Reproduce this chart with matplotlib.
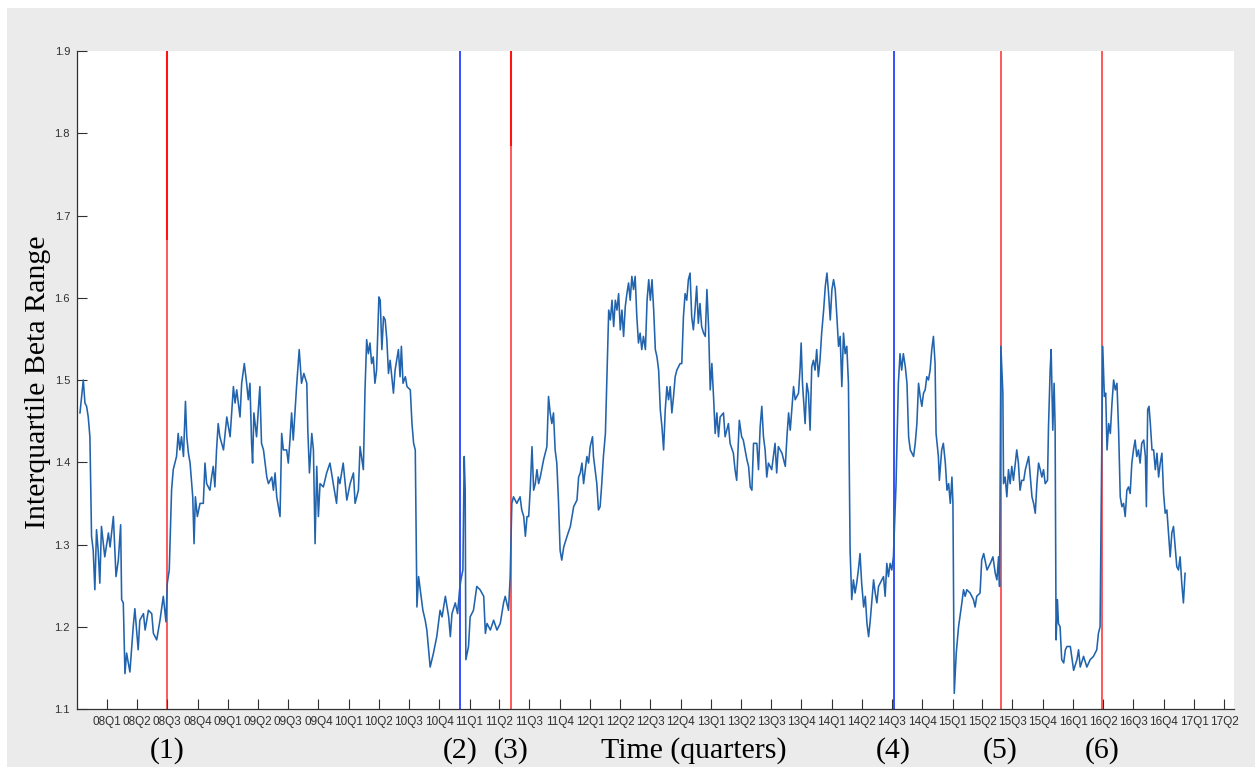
import matplotlib
matplotlib.use("Agg")
import matplotlib.pyplot as plt
import matplotlib.transforms as mtransforms
from matplotlib.patches import Rectangle
import pandas as pd

# Daily interquartile range of cross-sectional betas (sampled), days counted from 2008-01-01
origin = pd.Timestamp("2008-01-01")

day_offset = [
    -82, -72, -67, -62, -57, -52, -47, -42, -37, -32, -27, -22, -17, -7, 4, 9, 19, 27, 34, 41,
    44, 49, 54, 59, 69, 79, 84, 94, 99, 110, 115, 125, 135, 140, 150, 160, 170, 178, 182, 188,
    195, 200, 210, 215, 220, 225, 231, 237, 241, 246, 251, 259, 263, 267, 273, 281, 291, 296, 301, 311,
    316, 321, 326, 331, 336, 341, 352, 362, 372, 382, 387, 392, 402, 407, 415, 422, 427, 432, 437, 440,
    444, 452, 462, 467, 473, 483, 488, 498, 503, 508, 513, 523, 528, 533, 543, 548, 553, 558, 563, 573,
    581, 588, 595, 604, 607, 612, 619, 624, 629, 634, 639, 644, 654, 664, 674, 684, 694, 699, 704, 714,
    725, 735, 745, 750, 760, 765, 775, 780, 785, 790, 795, 800, 805, 810, 815, 822,
    826, 831, 836, 841, 846, 851, 856, 866, 871, 881, 886, 890, 895, 902, 907, 917, 922, 927, 932, 937,
    942, 947, 955, 962, 967, 977, 987, 997, 1007, 1013, 1023, 1033, 1038, 1043, 1053, 1060, 1066, 1070, 1076, 1080,
    1083, 1085, 1093, 1098, 1108, 1118, 1128, 1139, 1144, 1149, 1159, 1169, 1179, 1189, 1199, 1204, 1214, 1219, 1224, 1229,
    1239, 1249, 1254, 1260, 1265, 1270, 1275, 1280, 1285, 1290, 1295, 1300, 1305, 1310, 1320, 1330, 1335, 1340, 1345, 1350,
    1355, 1360, 1365, 1370, 1375, 1381, 1391, 1401, 1411, 1421, 1426, 1431, 1436, 1441, 1446, 1451, 1456, 1461, 1468, 1471,
    1481, 1486, 1491, 1496, 1501, 1507, 1512, 1517, 1522, 1527, 1532, 1537, 1542, 1547, 1552, 1557, 1562, 1567, 1572, 1577,
    1582, 1587, 1592, 1597, 1602, 1607, 1612, 1617, 1622, 1628, 1633, 1638, 1643, 1648, 1653, 1658, 1663, 1668, 1673, 1678,
    1683, 1688, 1693, 1698, 1703, 1708, 1713, 1718, 1723, 1733,
    1738, 1743, 1748, 1753, 1758, 1763, 1768, 1773, 1778, 1783, 1788, 1793, 1798, 1804, 1809, 1814, 1819, 1824, 1829, 1834,
    1839, 1844, 1849, 1854, 1864, 1869, 1879, 1884, 1894, 1899, 1904, 1912, 1919, 1924, 1935, 1940, 1945, 1950, 1955, 1965,
    1970, 1975, 1980, 1985, 1990, 1995, 2000, 2010, 2020, 2025, 2030, 2041, 2051, 2056, 2061, 2066, 2076, 2081, 2091, 2096,
    2099, 2103, 2111, 2116, 2121, 2126, 2131, 2136, 2141, 2146, 2151, 2156, 2161, 2167, 2172, 2177, 2182, 2187, 2192, 2197,
    2202, 2207, 2212, 2217, 2222, 2227, 2232, 2237, 2242, 2247, 2252, 2257, 2262, 2267, 2272, 2277, 2282, 2288, 2293, 2298,
    2303, 2308, 2313, 2318, 2323, 2328, 2333, 2338, 2348, 2353, 2358, 2363, 2368, 2373, 2378, 2386, 2393, 2398, 2403, 2408,
    2414, 2419, 2424, 2429, 2439, 2444, 2449, 2454, 2459, 2464, 2469, 2474, 2479, 2484, 2489, 2494, 2499, 2504, 2507, 2514,
    2517, 2524, 2529, 2535, 2540, 2545, 2550, 2555, 2558, 2562, 2568, 2575, 2585, 2590, 2595, 2600, 2610, 2620, 2625, 2630,
    2640,
    2645, 2651, 2661, 2671, 2679, 2686, 2691, 2696, 2699, 2703, 2709, 2711, 2716, 2721, 2726, 2731, 2736, 2741, 2751, 2756,
    2761, 2766, 2772, 2777, 2787, 2792, 2797, 2802, 2807, 2812, 2817, 2822, 2827, 2832, 2837, 2844, 2847, 2852, 2855, 2860,
    2864, 2867, 2870, 2874, 2877, 2882, 2887, 2893, 2898, 2903, 2913, 2923, 2933, 2938, 2943, 2953, 2963, 2973, 2983, 2993,
    2998, 3003, 3011, 3016, 3020, 3024, 3029, 3034, 3039, 3044, 3049, 3054, 3059, 3064, 3069, 3074, 3079, 3084, 3089, 3094,
    3099, 3104, 3109, 3114, 3119, 3124, 3129, 3135, 3140, 3143, 3147, 3151, 3155, 3160, 3165, 3170, 3175, 3180, 3185, 3190,
    3195, 3200, 3205, 3210, 3215, 3220, 3225, 3230, 3235, 3240, 3245, 3250, 3255, 3260,
]

iqr_beta = [
    1.460, 1.500, 1.472, 1.468, 1.455, 1.431, 1.310, 1.293, 1.245, 1.318, 1.293, 1.253, 1.322, 1.285, 1.314, 1.297, 1.334, 1.261, 1.281, 1.324,
    1.233, 1.229, 1.143, 1.168, 1.145, 1.200, 1.222, 1.172, 1.208, 1.216, 1.196, 1.220, 1.216, 1.192, 1.184, 1.208, 1.237, 1.206, 1.253, 1.269,
    1.366, 1.391, 1.407, 1.435, 1.415, 1.431, 1.407, 1.474, 1.431, 1.411, 1.399, 1.358, 1.301, 1.358, 1.334, 1.350, 1.350, 1.399, 1.374, 1.366,
    1.382, 1.395, 1.370, 1.415, 1.447, 1.431, 1.415, 1.455, 1.431, 1.492, 1.472, 1.488, 1.455, 1.496, 1.520, 1.496, 1.476, 1.496, 1.423, 1.399,
    1.460, 1.431, 1.492, 1.423, 1.415, 1.382, 1.374, 1.382, 1.366, 1.387, 1.358, 1.334, 1.435, 1.415, 1.415, 1.399, 1.427, 1.460, 1.427, 1.492,
    1.537, 1.496, 1.508, 1.496, 1.439, 1.387, 1.435, 1.415, 1.301, 1.395, 1.334, 1.374, 1.370, 1.387, 1.399, 1.374, 1.350, 1.382, 1.374, 1.399,
    1.354, 1.374, 1.387, 1.350, 1.366, 1.419, 1.391, 1.488, 1.549, 1.532, 1.545, 1.520, 1.528, 1.496, 1.512, 1.601,
    1.597, 1.537, 1.577, 1.573, 1.549, 1.508, 1.524, 1.484, 1.512, 1.537, 1.504, 1.541, 1.496, 1.504, 1.492, 1.488, 1.447, 1.423, 1.415, 1.224,
    1.261, 1.245, 1.220, 1.208, 1.196, 1.151, 1.168, 1.188, 1.220, 1.212, 1.237, 1.212, 1.188, 1.216, 1.229, 1.216, 1.245, 1.257, 1.269, 1.407,
    1.366, 1.160, 1.176, 1.212, 1.220, 1.249, 1.245, 1.237, 1.192, 1.204, 1.196, 1.208, 1.196, 1.204, 1.229, 1.237, 1.220, 1.261, 1.350, 1.358,
    1.350, 1.358, 1.342, 1.334, 1.310, 1.334, 1.334, 1.370, 1.419, 1.366, 1.374, 1.391, 1.374, 1.382, 1.403, 1.419, 1.480, 1.460, 1.447, 1.460,
    1.415, 1.399, 1.354, 1.293, 1.281, 1.297, 1.310, 1.322, 1.346, 1.354, 1.382, 1.387, 1.399, 1.374, 1.391, 1.407, 1.399, 1.419, 1.431, 1.407,
    1.374, 1.342, 1.346, 1.374, 1.407, 1.435, 1.512, 1.585, 1.573, 1.597, 1.565, 1.597, 1.585, 1.605, 1.561, 1.585, 1.553, 1.589, 1.605, 1.618,
    1.597, 1.626, 1.610, 1.626, 1.577, 1.545, 1.557, 1.537, 1.553, 1.537, 1.597, 1.622, 1.597, 1.622, 1.585, 1.537, 1.528, 1.512, 1.464, 1.443,
    1.415, 1.464, 1.492, 1.476, 1.492, 1.460, 1.480, 1.504, 1.512, 1.520,
    1.520, 1.577, 1.605, 1.597, 1.622, 1.630, 1.577, 1.561, 1.585, 1.614, 1.569, 1.593, 1.565, 1.557, 1.553, 1.610, 1.565, 1.488, 1.520, 1.480,
    1.435, 1.460, 1.431, 1.455, 1.460, 1.431, 1.447, 1.423, 1.411, 1.391, 1.378, 1.451, 1.431, 1.427, 1.403, 1.395, 1.370, 1.366, 1.423, 1.423,
    1.391, 1.443, 1.468, 1.431, 1.415, 1.382, 1.399, 1.391, 1.423, 1.387, 1.419, 1.411, 1.395, 1.431, 1.460, 1.439, 1.492, 1.476, 1.484, 1.516,
    1.545, 1.496, 1.447, 1.496, 1.484, 1.439, 1.516, 1.524, 1.512, 1.537, 1.504, 1.524, 1.557, 1.585, 1.614, 1.630, 1.605, 1.573, 1.610, 1.622,
    1.610, 1.577, 1.541, 1.553, 1.492, 1.557, 1.532, 1.541, 1.496, 1.293, 1.233, 1.257, 1.241, 1.253, 1.269, 1.289, 1.253, 1.224, 1.237, 1.204,
    1.188, 1.208, 1.233, 1.257, 1.241, 1.229, 1.249, 1.253, 1.261, 1.237, 1.277, 1.261, 1.277, 1.269, 1.285, 1.374, 1.496, 1.532, 1.512, 1.532,
    1.516, 1.496, 1.431, 1.415, 1.407, 1.423, 1.447, 1.496, 1.480, 1.468, 1.484, 1.488, 1.504, 1.500, 1.512, 1.537, 1.553, 1.520, 1.435, 1.407,
    1.378, 1.415, 1.423, 1.399, 1.366, 1.374, 1.350, 1.382, 1.350, 1.119, 1.168, 1.200, 1.229, 1.245, 1.237, 1.245, 1.241, 1.233, 1.224, 1.237,
    1.241,
    1.281, 1.289, 1.269, 1.277, 1.285, 1.265, 1.257, 1.285, 1.249, 1.541, 1.484, 1.374, 1.382, 1.358, 1.391, 1.374, 1.395, 1.378, 1.415, 1.399,
    1.366, 1.378, 1.378, 1.391, 1.407, 1.382, 1.358, 1.350, 1.338, 1.374, 1.399, 1.391, 1.382, 1.391, 1.374, 1.378, 1.443, 1.512, 1.537, 1.439,
    1.496, 1.443, 1.184, 1.233, 1.204, 1.200, 1.160, 1.156, 1.172, 1.176, 1.176, 1.147, 1.160, 1.172, 1.151, 1.164, 1.151, 1.160, 1.164, 1.172,
    1.192, 1.200, 1.541, 1.480, 1.484, 1.415, 1.447, 1.435, 1.472, 1.500, 1.488, 1.496, 1.439, 1.358, 1.346, 1.350, 1.334, 1.366, 1.370, 1.362,
    1.399, 1.415, 1.427, 1.407, 1.415, 1.399, 1.423, 1.427, 1.407, 1.346, 1.464, 1.468, 1.447, 1.415, 1.415, 1.391, 1.411, 1.382, 1.399, 1.411,
    1.362, 1.338, 1.342, 1.314, 1.285, 1.314, 1.322, 1.297, 1.273, 1.269, 1.285, 1.253, 1.229, 1.265,
]

# Events marked on the chart
event_dates = ["2008-07-01", "2010-12-04", "2011-05-07", "2014-07-07", "2015-05-26", "2016-03-28"]
event_colors = ["#ff0000", "#0022ff", "#ff0000", "#0022ff", "#ff0000", "#ff0000"]
event_labels = ["(1)", "(2)", "(3)", "(4)", "(5)", "(6)"]
event_overlap_from = [1.67, None, 1.785, None, None, None]

quarter_labels = [
    "08Q1", "08Q2", "08Q3", "08Q4", "09Q1", "09Q2", "09Q3", "09Q4",
    "10Q1", "10Q2", "10Q3", "10Q4", "11Q1", "11Q2", "11Q3", "11Q4",
    "12Q1", "12Q2", "12Q3", "12Q4", "13Q1", "13Q2", "13Q3", "13Q4",
    "14Q1", "14Q2", "14Q3", "14Q4", "15Q1", "15Q2", "15Q3", "15Q4",
    "16Q1", "16Q2", "16Q3", "16Q4", "17Q1", "17Q2",
]
y_ticks = [1.1, 1.2, 1.3, 1.4, 1.5, 1.6, 1.7, 1.8, 1.9]

assert len(day_offset) == len(iqr_beta)

dates = origin + pd.to_timedelta(day_offset, unit="D")
quarter_starts = pd.date_range("2008-01-01", periods=len(quarter_labels), freq="QS")

W, H = 1255, 767
fig = plt.figure(figsize=(W / 100, H / 100), dpi=100, facecolor="white")
fig.patches.append(Rectangle((7 / W, 0), 1, (H - 8) / H, transform=fig.transFigure,
                             facecolor="#ebebeb", edgecolor="none", zorder=-10))

ax = fig.add_axes([77 / W, (H - 709) / H, (1234 - 77) / W, (709 - 51) / H])
ax.set_facecolor("white")

ax.plot(dates, iqr_beta, color="#2163ad", lw=1.15, zorder=3)

for d, c, top_from in zip(event_dates, event_colors, event_overlap_from):
    alpha = 0.7 if c == "#ff0000" else 0.85
    ax.axvline(pd.Timestamp(d), color=c, lw=1.3, alpha=alpha, zorder=2)
    if top_from is not None:
        # a second, coincident event line over the upper part of the axis
        ax.vlines(pd.Timestamp(d), top_from, 1.9, color=c, lw=1.5, alpha=0.8, zorder=2)

ax.set_xlim(pd.Timestamp("2007-10-02"), pd.Timestamp("2017-05-01"))
ax.set_ylim(1.1, 1.9)
ax.set_xticks(quarter_starts)
ax.set_xticklabels(quarter_labels)
ax.set_yticks(y_ticks)
ax.set_yticklabels([f"{v:.1f}" for v in y_ticks])

tick_color = "#303030"
ax.tick_params(axis="x", direction="in", length=7, width=0.8, color=tick_color,
               labelcolor=tick_color, labelsize=8.5, pad=5)
ax.tick_params(axis="y", direction="in", length=7.5, width=0.8, color=tick_color,
               labelcolor=tick_color, labelsize=8.0, pad=5)
for lab in ax.get_xticklabels() + ax.get_yticklabels():
    lab.set_fontfamily("Liberation Sans")

for side in ("top", "right"):
    ax.spines[side].set_visible(False)
for side in ("left", "bottom"):
    ax.spines[side].set_color(tick_color)
    ax.spines[side].set_linewidth(0.9)

serif = dict(family="Liberation Serif", size=21.5, color="black")
trans = mtransforms.blended_transform_factory(ax.transData, fig.transFigure)
label_y = (H - 751) / H
for d, lab in zip(event_dates, event_labels):
    ax.text(pd.Timestamp(d), label_y, lab, transform=trans, ha="center", va="center", **serif)

fig.text(694 / W, label_y, "Time (quarters)", ha="center", va="center", **serif)
fig.text(38 / W, (H - 382) / H, "Interquartile Beta Range", rotation=90,
         ha="center", va="center", **serif)

fig.savefig("out.png", dpi=100, facecolor=fig.get_facecolor())
